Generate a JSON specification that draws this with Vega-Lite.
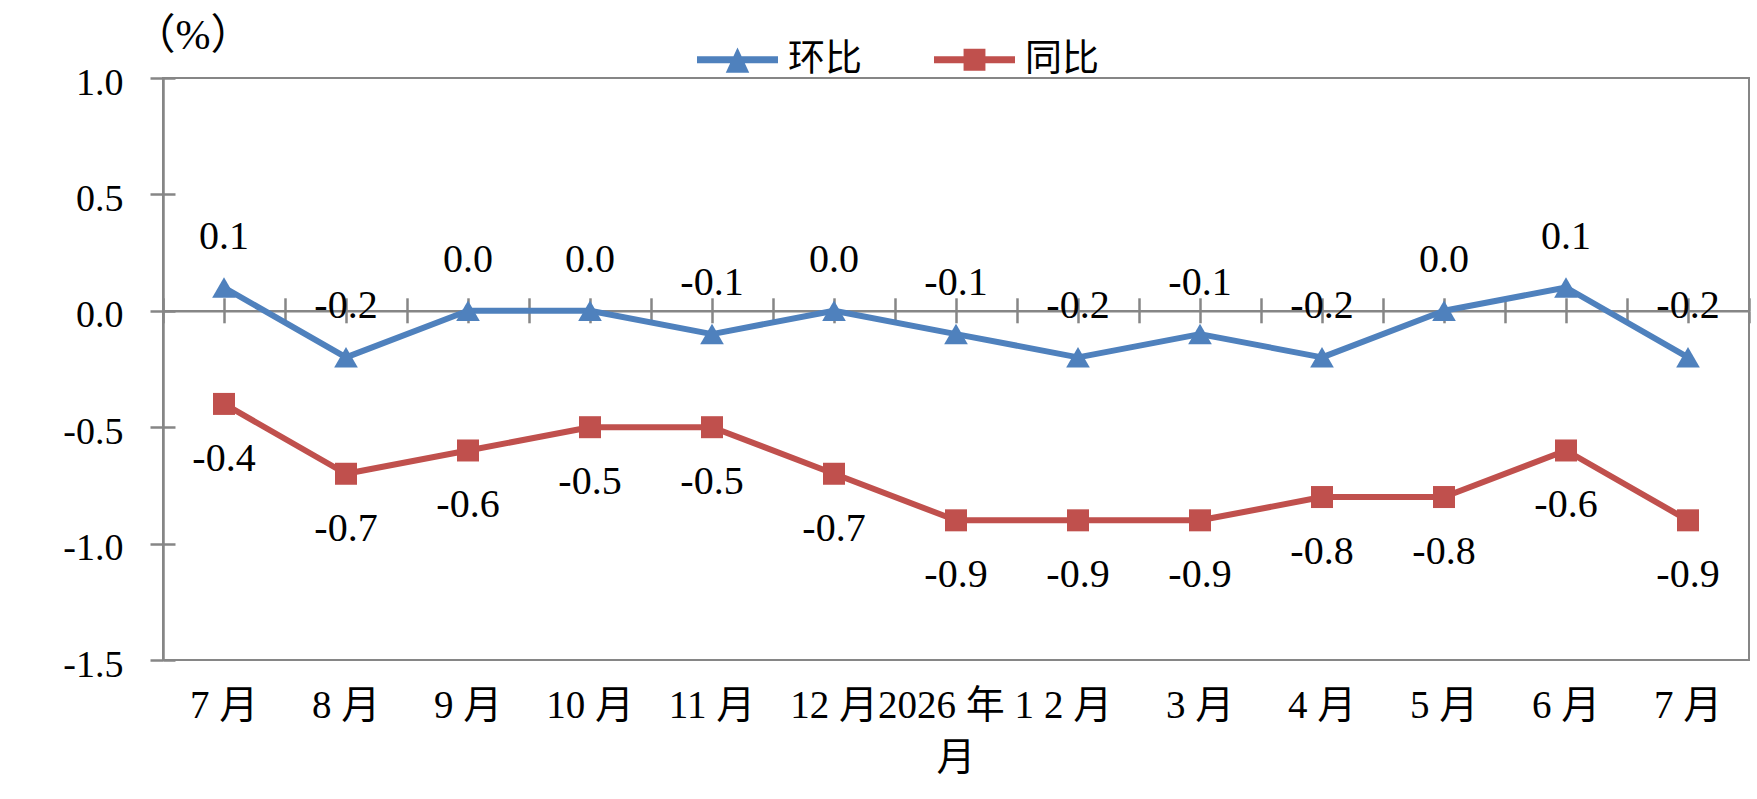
{
  "$schema": "https://vega.github.io/schema/vega-lite/v6.json",
  "width": 1586,
  "height": 582,
  "autosize": {"type": "none"},
  "padding": {"left": 163, "top": 78, "right": 8, "bottom": 139},
  "background": "white",
  "datasets": {
    "cpi": [
      {"month": "2025-07", "hb": 0.1, "tb": -0.4},
      {"month": "2025-08", "hb": -0.2, "tb": -0.7},
      {"month": "2025-09", "hb": 0.0, "tb": -0.6},
      {"month": "2025-10", "hb": 0.0, "tb": -0.5},
      {"month": "2025-11", "hb": -0.1, "tb": -0.5},
      {"month": "2025-12", "hb": 0.0, "tb": -0.7},
      {"month": "2026-01", "hb": -0.1, "tb": -0.9},
      {"month": "2026-02", "hb": -0.2, "tb": -0.9},
      {"month": "2026-03", "hb": -0.1, "tb": -0.9},
      {"month": "2026-04", "hb": -0.2, "tb": -0.8},
      {"month": "2026-05", "hb": 0.0, "tb": -0.8},
      {"month": "2026-06", "hb": 0.1, "tb": -0.6},
      {"month": "2026-07", "hb": -0.2, "tb": -0.9}
    ],
    "series": [
      {"series": "环比"},
      {"series": "同比"}
    ]
  },
  "data": {"name": "cpi"},
  "layer": [
    {
      "mark": {"type": "line", "color": "#4F81BD", "strokeWidth": 6, "strokeCap": "round", "strokeJoin": "round"},
      "encoding": {
        "x": {
          "field": "month", "type": "ordinal", "sort": null,
          "scale": {"type": "band", "paddingInner": 0, "paddingOuter": 0},
          "axis": {
            "orient": "bottom", "title": null, "ticks": false, "domain": false, "grid": false,
            "labelAngle": 0, "labelPadding": 26, "labelBaseline": "top", "labelFontSize": 39,
            "labelLineHeight": 52, "labelFont": "Liberation Serif, Noto Sans CJK SC",
            "labelExpr": "datum.label == '2026-01' ? ['2026 年 1', '月'] : toNumber(slice(datum.label, 5)) + ' 月'"
          }
        },
        "y": {
          "field": "hb", "type": "quantitative",
          "scale": {"domain": [-1.5, 1], "nice": false, "zero": false},
          "axis": null
        }
      }
    },
    {
      "mark": {"type": "line", "color": "#C0504D", "strokeWidth": 6, "strokeCap": "round", "strokeJoin": "round"},
      "encoding": {
        "x": {
          "field": "month", "type": "ordinal", "sort": null,
          "axis": {"orient": "top", "offset": -232.8, "title": null, "labels": false, "grid": false,
                   "tickBand": "extent", "tickSize": 13, "domain": true}
        },
        "y": {
          "field": "tb", "type": "quantitative",
          "axis": {
            "orient": "left", "values": [-1.5, -1, -0.5, 0, 0.5, 1], "format": ".1f", "grid": false,
            "tickSize": 13, "labelPadding": 27, "labelFontSize": 38, "labelOffset": 5,
            "labelFont": "Liberation Serif",
            "title": "（%）", "titleAngle": 0, "titleAlign": "left", "titleBaseline": "middle",
            "titleX": -30, "titleY": -43, "titleFontSize": 42, "titleFontWeight": "normal",
            "titleFont": "Liberation Serif, Noto Sans CJK SC"
          }
        }
      }
    },
    {
      "mark": {"type": "point", "shape": "triangle-up", "filled": true, "size": 560, "color": "#4F81BD", "opacity": 1},
      "encoding": {
        "x": {
          "field": "month", "type": "ordinal", "sort": null,
          "axis": {"orient": "top", "offset": -232.8, "title": null, "labels": false, "grid": false,
                   "tickBand": "center", "tickSize": 13, "domain": false}
        },
        "y": {
          "field": "hb", "type": "quantitative",
          "axis": {"orient": "right", "offset": -1586, "values": [-1.5, -1, -0.5, 0, 0.5, 1],
                   "labels": false, "domain": false, "grid": false, "tickSize": 12, "title": null}
        }
      }
    },
    {
      "mark": {"type": "point", "shape": "square", "filled": true, "size": 484, "color": "#C0504D", "opacity": 1},
      "encoding": {
        "x": {
          "field": "month", "type": "ordinal", "sort": null,
          "axis": {"orient": "bottom", "offset": -349.2, "title": null, "labels": false, "grid": false,
                   "tickBand": "extent", "tickSize": 12, "domain": false}
        },
        "y": {"field": "tb", "type": "quantitative", "axis": null}
      }
    },
    {
      "mark": {"type": "text", "dy": -51, "fontSize": 40, "color": "black", "baseline": "middle"},
      "encoding": {
        "x": {
          "field": "month", "type": "ordinal", "sort": null,
          "axis": {"orient": "bottom", "offset": -349.2, "title": null, "labels": false, "grid": false,
                   "tickBand": "center", "tickSize": 12, "domain": false}
        },
        "y": {"field": "hb", "type": "quantitative", "axis": null},
        "text": {"field": "hb", "type": "quantitative", "format": ".1f"}
      }
    },
    {
      "mark": {"type": "text", "dy": 55, "fontSize": 40, "color": "black", "baseline": "middle"},
      "encoding": {
        "x": {"field": "month", "type": "ordinal", "sort": null, "axis": null},
        "y": {"field": "tb", "type": "quantitative", "axis": null},
        "text": {"field": "tb", "type": "quantitative", "format": ".1f"}
      }
    },
    {
      "data": {"name": "series"},
      "transform": [{"filter": "false"}],
      "mark": {"type": "point", "filled": true, "opacity": 1},
      "encoding": {
        "color": {
          "field": "series", "type": "nominal",
          "scale": {"domain": ["环比", "同比"], "range": ["#4F81BD", "#C0504D"]},
          "legend": {
            "orient": "none", "legendX": 534, "legendY": -59, "direction": "horizontal",
            "title": null, "padding": 0, "symbolSize": 6561, "symbolStrokeWidth": 0,
            "symbolOpacity": 1, "labelOffset": 10, "columnPadding": 72,
            "labelFont": "Noto Sans CJK SC", "labelFontSize": 37, "labelColor": "black"
          }
        },
        "shape": {
          "field": "series", "type": "nominal",
          "scale": {
            "domain": ["环比", "同比"],
            "range": [
              "M-1,-0.085L1,-0.085L1,0.085L-1,0.085Z M0,-0.3L0.29,0.32L-0.29,0.32Z",
              "M-1,-0.085L1,-0.085L1,0.085L-1,0.085Z M-0.27,-0.27L0.27,-0.27L0.27,0.27L-0.27,0.27Z"
            ]
          }
        }
      }
    }
  ],
  "resolve": {"axis": {"x": "independent", "y": "independent"}},
  "config": {
    "locale": {
      "number": {"decimal": ".", "thousands": ",", "grouping": [3], "currency": ["", ""], "minus": "-"}
    },
    "font": "Liberation Serif, Noto Sans CJK SC",
    "view": {"stroke": "#868686", "strokeWidth": 2},
    "axis": {
      "domainColor": "#868686", "domainWidth": 2.5,
      "tickColor": "#868686", "tickWidth": 2.5,
      "labelColor": "black", "titleColor": "black",
      "labelFont": "Liberation Serif, Noto Sans CJK SC", "titleFont": "Liberation Serif, Noto Sans CJK SC"
    },
    "text": {"font": "Liberation Serif, Noto Sans CJK SC"}
  }
}
